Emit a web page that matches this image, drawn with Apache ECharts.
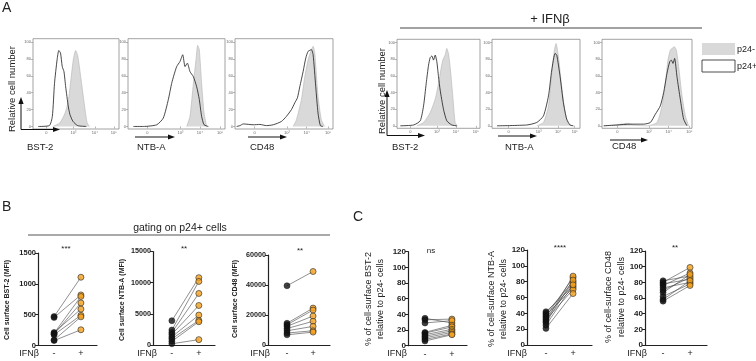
<!DOCTYPE html>
<html><head><meta charset="utf-8">
<script src="https://cdn.jsdelivr.net/npm/echarts@6/dist/echarts.min.js"></script>
<style>html,body{margin:0;padding:0;background:#fff}#c{width:756px;height:361px}</style>
</head><body><div id="c"></div>
<script>
// ---------- Panel A: histogram tick labels ----------
const histXLabels = ['0', '10³', '10⁴', '10⁵'];
const histYTicks = [0, 20, 40, 60, 80, 100];
const h1Ticks = [15.5, 47, 72, 94];
const h2Ticks = [20, 54, 74, 95];
const h3Ticks = [20, 53, 73, 95];
const h4Ticks = [16, 48, 71, 95];
const h5Ticks = [19, 53, 75, 94];
const h6Ticks = [17, 52, 74, 97];

// ---------- Panel A: histograms [fluorescence position %, relative count] ----------
const h1Neg = [[23,0],[31,4],[37,15],[41,30],[44,55],[47,80],[49.6,90],[52,84],[56,55],[60,24],[63,4],[66,0]];
const h1Pos = [[6,0],[19,1],[22.5,12],[25,51],[28,79],[30,90],[32,87],[34,71],[36,65],[38,47],[41,24],[43,14],[46.5,6],[52,1],[62,0]];
const h2Neg = [[60.5,0],[63.9,12],[67.4,51],[70.1,79],[71.8,96],[73.5,91],[75.9,51],[78.4,16],[81.1,0]];
const h2Pos = [[5.5,0],[15.8,0],[29.6,2],[36.4,10],[41.6,32],[45,51],[47.4,61],[50.2,71],[53.6,77],[56.4,85],[58.8,71],[61.2,75],[63.9,65],[67.4,59],[70.8,47],[73.5,32],[75.9,12],[78.4,2],[82.8,0]];
const h3Neg = [[59.3,0],[62.7,8],[67.8,32],[71.2,59],[74.6,79],[78,91],[79.7,95],[81.4,87],[84.7,36],[88.1,8],[91.5,0]];
const h3Pos = [[1.7,0],[5.1,1],[8.5,3],[18.6,2],[25.4,2.4],[32.2,1],[39,2],[47.5,6],[52.5,12],[57.6,20],[61,28],[63.7,34],[66.1,47],[69.5,65],[72.2,81],[74.6,89],[78,91],[79.7,85],[82.4,47],[84.7,16],[87.1,1],[89.8,0]];
const h4Neg = [[24,0],[32,4],[40,16],[46,32],[50,51],[52.8,67],[55.2,79],[58,85],[60,93],[62,87],[64,71],[67.2,36],[70,4],[72.8,0]];
const h4Pos = [[4,0],[20,1],[28,6],[32,24],[35.2,51],[38,73],[40,82],[42,84],[44,79],[46,85],[48,77],[50,59],[52,43],[56,20],[60,6],[66,1],[72,0]];
const h5Neg = [[50.9,0],[58.5,4],[64.2,24],[67.9,63],[70.9,91],[72.8,99],[75.5,83],[79.2,47],[83,16],[86.8,2],[90.6,0]];
const h5Pos = [[5.7,0],[39.6,1],[50.9,4],[58.5,12],[64.2,36],[67.9,67],[71.7,87],[73.6,85],[77.4,59],[81.1,28],[84.9,8],[88.7,1],[92.5,0]];
const h6Neg = [[1.9,0],[16.7,1],[27.8,3],[35.2,1],[50,0],[61.1,4],[66.7,24],[70.4,51],[73.3,79],[75.9,91],[77.8,93],[80.4,95],[82.6,91],[85.2,71],[88.9,36],[92.6,12],[96.3,0]];
const h6Pos = [[1.9,0],[16.7,1],[31.5,2],[46.3,2],[53.7,4],[59.3,14],[64.8,24],[68.5,40],[72.2,63],[75.2,77],[77,79],[78.9,75],[80.7,81],[83.3,59],[87,32],[90.7,8],[94.4,0]];

// ---------- Panel B: MFI on p24+ cells (IFNβ -, +), paired by index ----------
const b1Minus = [470, 455, 200, 185, 210, 175, 90, 80];
const b1Plus  = [1107, 820, 795, 690, 590, 490, 465, 255];
const b2Minus = [3900, 2400, 2000, 1700, 1300, 1000, 600, 200];
const b2Plus  = [10800, 10200, 8270, 6340, 4800, 3950, 3730, 860];
const b3Minus = [39500, 14500, 13500, 12500, 11000, 9500, 8000, 6800];
const b3Plus  = [49000, 24600, 23300, 19300, 15800, 12400, 9500, 8600];

// ---------- Panel C: % relative to p24- cells ----------
const c1Minus = [35, 33, 29, 17, 16, 14, 12, 10, 8, 6];
const c1Plus  = [29, 34, 32, 26, 24, 21, 19, 17, 15, 14];
const c2Minus = [42, 40, 38, 36, 34, 32, 30, 28, 25, 21];
const c2Plus  = [74, 80, 72, 85, 78, 70, 87, 82, 76, 65];
const c3Minus = [82, 80, 78, 76, 73, 70, 67, 62, 58, 56];
const c3Plus  = [88, 99, 84, 92, 80, 86, 90, 78, 82, 76];

const groupLabels = ['-', '+'];

const FONT = '"Liberation Sans", Arial, Helvetica, sans-serif';
const grids = [], xAxes = [], yAxes = [], series = [];

function histPanel(box, ticks, neg, pos) {
  const gi = grids.length;
  grids.push({left: box[0], top: box[1], width: box[2], height: box[3], show: true,
    borderColor: '#8c8c8c', borderWidth: 0.8, outerBoundsMode: 'none'});
  xAxes.push({gridIndex: gi, type: 'value', min: 0, max: 100,
    axisLine: {show: false}, splitLine: {show: false},
    axisTick: {show: true, customValues: ticks, length: 2, lineStyle: {color: '#888', width: 0.6}},
    axisLabel: {customValues: ticks, formatter: v => histXLabels[ticks.indexOf(v)] || '',
      fontSize: 4, margin: 1.5, color: '#666', fontFamily: FONT}});
  yAxes.push({gridIndex: gi, type: 'value', min: -3, max: 104,
    axisLine: {show: false}, splitLine: {show: false},
    axisTick: {show: true, customValues: histYTicks, length: 2, lineStyle: {color: '#888', width: 0.6}},
    axisLabel: {customValues: histYTicks, fontSize: 4, margin: 2, color: '#666', fontFamily: FONT}});
  series.push({type: 'line', xAxisIndex: gi, yAxisIndex: gi, data: neg, symbol: 'none', smooth: 0.2,
    lineStyle: {color: '#b3b3b3', width: 0.6}, areaStyle: {color: '#d9d9d9', opacity: 1}, z: 2, silent: true});
  series.push({type: 'line', xAxisIndex: gi, yAxisIndex: gi, data: pos, symbol: 'none', smooth: 0.2,
    lineStyle: {color: '#1a1a1a', width: 0.8}, z: 3, silent: true});
}

function pairPanel(box, xr, yMax, yInt, minus, plus, labelSize) {
  const gi = grids.length;
  grids.push({left: box[0], top: box[1], width: box[2], height: box[3], show: false, outerBoundsMode: 'none'});
  xAxes.push({gridIndex: gi, type: 'value', min: xr[0], max: xr[1],
    axisLine: {show: true, onZero: false, lineStyle: {color: '#222', width: 1.2}},
    splitLine: {show: false}, axisTick: {show: false},
    axisLabel: {customValues: [0, 1], formatter: v => groupLabels[v], fontSize: 9, margin: 4,
      color: '#222', fontFamily: FONT}});
  yAxes.push({gridIndex: gi, type: 'value', min: 0, max: yMax, interval: yInt,
    axisLine: {show: true, onZero: false, lineStyle: {color: '#222', width: 1.2}},
    splitLine: {show: false},
    axisTick: {show: true, length: 3, lineStyle: {color: '#222', width: 1}},
    axisLabel: {fontSize: labelSize, fontWeight: 'bold', margin: 2, color: '#222', fontFamily: FONT,
      formatter: v => String(v)}});
  series.push({type: 'lines', coordinateSystem: 'cartesian2d', xAxisIndex: gi, yAxisIndex: gi,
    data: minus.map((v, i) => ({coords: [[0, v], [1, plus[i]]]})),
    lineStyle: {color: '#444', width: 0.6, opacity: 1}, z: 2, silent: true});
  series.push({type: 'scatter', xAxisIndex: gi, yAxisIndex: gi, data: minus.map(v => [0, v]),
    symbolSize: 6, itemStyle: {color: '#111', borderColor: '#111', borderWidth: 0.6}, z: 3, silent: true});
  series.push({type: 'scatter', xAxisIndex: gi, yAxisIndex: gi, data: plus.map(v => [1, v]),
    symbolSize: 6, itemStyle: {color: '#F5A11E', borderColor: '#2a2a2a', borderWidth: 0.8}, z: 4, silent: true});
}

histPanel([33, 38.7, 86, 90.3], h1Ticks, h1Neg, h1Pos);
histPanel([128, 38.7, 97, 90.3], h2Ticks, h2Neg, h2Pos);
histPanel([235, 38.7, 98, 90.3], h3Ticks, h3Neg, h3Pos);
histPanel([397, 39.3, 83, 89], h4Ticks, h4Neg, h4Pos);
histPanel([492, 39.3, 88, 89], h5Ticks, h5Neg, h5Pos);
histPanel([602, 39.3, 90, 89], h6Ticks, h6Neg, h6Pos);

pairPanel([38, 253, 59, 92.5], [-0.6, 1.6], 1500, 500, b1Minus, b1Plus, 7.5);
pairPanel([153, 251.5, 62, 93.5], [-0.7, 1.6], 15000, 5000, b2Minus, b2Plus, 7.2);
pairPanel([268, 255, 62, 90], [-0.73, 1.65], 60000, 20000, b3Minus, b3Plus, 7.2);
pairPanel([408, 251.7, 59, 94], [-0.63, 1.56], 120, 20, c1Minus, c1Plus, 8);
pairPanel([527, 250, 65, 95], [-0.7, 1.7], 120, 20, c2Minus, c2Plus, 8);
pairPanel([645, 251, 62, 94], [-0.67, 1.63], 120, 20, c3Minus, c3Plus, 8);

// ---------- annotations ----------
const G = [];
function txt(t, x, y, size, opts = {}) {
  G.push({type: 'text', x, y, rotation: opts.rot || 0, silent: true, z: 10,
    style: {text: t, font: (opts.weight || 'normal') + ' ' + size + 'px ' + FONT, fill: opts.color || '#222',
      align: opts.align || 'center', verticalAlign: opts.va || 'middle'}});
}
function line(x1, y1, x2, y2, w, c) {
  G.push({type: 'line', silent: true, z: 10, shape: {x1, y1, x2, y2}, style: {stroke: c || '#333', lineWidth: w || 1}});
}
function arrowRight(x1, x2, y) {
  line(x1, y, x2 - 5, y, 1, '#111');
  G.push({type: 'polygon', silent: true, z: 10, shape: {points: [[x2, y], [x2 - 7, y - 2.6], [x2 - 7, y + 2.6]]}, style: {fill: '#111'}});
}
function arrowUp(x, y1, y2) {
  line(x, y1, x, y2 + 5, 1, '#111');
  G.push({type: 'polygon', silent: true, z: 10, shape: {points: [[x, y2], [x - 2.6, y2 + 7], [x + 2.6, y2 + 7]]}, style: {fill: '#111'}});
}
const R = Math.PI / 2;

// Panel A
txt('A', 2, 8, 14, {align: 'left'});
txt('+ IFNβ', 550, 19, 13);
line(400, 28, 702, 28, 1, '#444');
G.push({type: 'rect', silent: true, z: 10, shape: {x: 702, y: 43, width: 33, height: 12}, style: {fill: '#d9d9d9'}});
G.push({type: 'rect', silent: true, z: 10, shape: {x: 702, y: 60, width: 33, height: 12}, style: {fill: '#fff', stroke: '#222', lineWidth: 0.8}});
txt('p24-', 737, 49.5, 9, {align: 'left'});
txt('p24+', 737, 66.5, 9, {align: 'left'});
txt('Relative cell number', 12, 89, 9.5, {rot: R});
txt('Relative cell number', 382, 91, 9.5, {rot: R});
arrowUp(21, 129.5, 97); arrowRight(21, 60, 129.5);
arrowRight(135, 175, 137);
arrowRight(248, 287, 137);
arrowUp(387, 135.5, 90); arrowRight(387, 425, 135.5);
arrowRight(498, 537, 136);
arrowRight(610, 648, 140);
txt('BST-2', 27, 147.5, 9.5, {align: 'left'});
txt('NTB-A', 137, 147.5, 9.5, {align: 'left'});
txt('CD48', 250, 147.5, 9.5, {align: 'left'});
txt('BST-2', 392, 147.5, 9.5, {align: 'left'});
txt('NTB-A', 505, 147.5, 9.5, {align: 'left'});
txt('CD48', 612, 146.5, 9.5, {align: 'left'});

// Panel B
txt('B', 2, 207, 14, {align: 'left'});
txt('gating on p24+ cells', 180, 228, 10.5);
line(28, 235, 330, 235, 1, '#555');
txt('Cell surface BST-2 (MFI)', 7, 300, 7, {rot: R, weight: 'bold'});
txt('Cell surface NTB-A (MFI)', 122, 300, 7, {rot: R, weight: 'bold'});
txt('Cell surface CD48 (MFI)', 235, 299, 7, {rot: R, weight: 'bold'});
txt('***', 66, 249, 8);
txt('**', 184, 249, 8);
txt('**', 300, 251, 8);
txt('IFNβ', 29, 354, 9);
txt('IFNβ', 147, 354, 9);
txt('IFNβ', 260, 354, 9);

// Panel C
txt('C', 353, 217, 14, {align: 'left'});
txt('% of cell-surface BST-2', 368.5, 299, 9, {rot: R});
txt('relative to p24- cells', 381, 299, 9, {rot: R});
txt('% of cell-surface NTB-A', 491.5, 299, 9, {rot: R});
txt('relative to p24- cells', 503.5, 299, 9, {rot: R});
txt('% of cell-surface CD48', 609, 297, 9, {rot: R});
txt('relative to p24- cells', 622, 297, 9, {rot: R});
txt('ns', 431, 251, 8);
txt('****', 560, 248, 8);
txt('**', 675, 248, 8);
txt('IFNβ', 397, 354, 9);
txt('IFNβ', 517, 354, 9);
txt('IFNβ', 637, 354, 9);

const chart = echarts.init(document.getElementById('c'), null, {renderer: 'canvas'});
chart.setOption({
  animation: false,
  backgroundColor: '#fff',
  textStyle: {fontFamily: FONT},
  grid: grids, xAxis: xAxes, yAxis: yAxes, series: series, graphic: G
});
</script>
</body></html>
